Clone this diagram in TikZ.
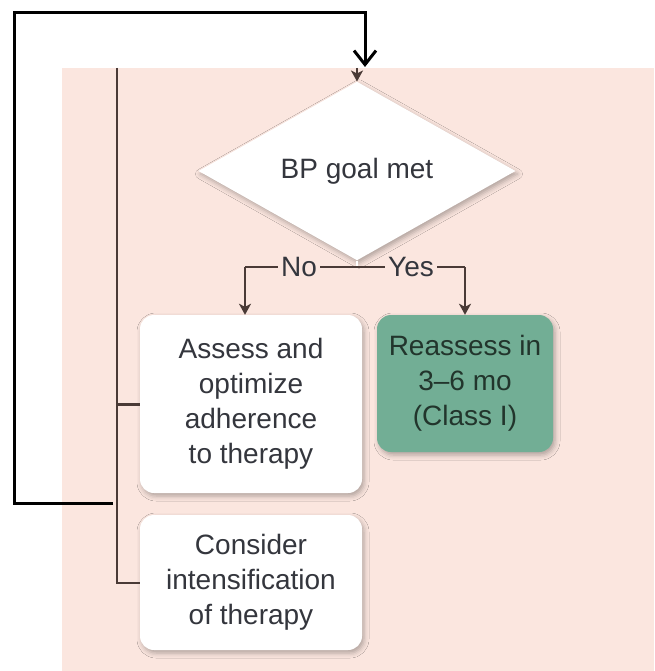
\documentclass[tikz,border=0pt]{standalone}
\usepackage{fontspec}
\setmainfont{Liberation Sans}
\usetikzlibrary{arrows.meta,shapes.geometric,shadows.blur}

\definecolor{panel}{HTML}{FBE6DF}
\definecolor{mint}{HTML}{72AE95}
\definecolor{ink}{HTML}{34363D}
\definecolor{mintink}{HTML}{22352C}
\definecolor{wire}{HTML}{4A3A36}

\tikzset{
  softshadow/.style={blur shadow={shadow xshift=2pt,shadow yshift=-3pt,
      shadow blur radius=5pt,shadow opacity=30}},
  card/.style={fill=white,rounded corners=14pt,align=center,text=ink,
      inner sep=0pt,softshadow,font=\fontsize{28pt}{35pt}\selectfont},
  mintcard/.style={card,fill=mint,text=mintink},
  decision/.style={shape=diamond,fill=white,inner sep=0pt,text=ink,
      softshadow,font=\fontsize{28pt}{35pt}\selectfont},
  branch/.style={fill=panel,inner xsep=3pt,inner ysep=0pt,text=ink,
      font=\fontsize{28pt}{35pt}\selectfont},
  wire/.style={draw=wire,line width=2pt},
  flowarrow/.style={wire,-{Stealth[length=11pt,width=12pt,inset=3pt]}},
  loopline/.style={draw=black,line width=3pt,line join=miter,
      -{Straight Barb[length=14pt,width=22pt]}}
}

\begin{document}
\begin{tikzpicture}[x=1pt,y=-1pt]
  \useasboundingbox (0,0) rectangle (654,671);
  \fill[white] (0,0) rectangle (654,671);
  \fill[panel] (62,68) rectangle (654,671);

  % points where the connectors turn
  \coordinate (loopBR) at (113,503);
  \coordinate (loopBL) at (14,503);
  \coordinate (loopTL) at (14,13);
  \coordinate (loopTR) at (365,13);
  \coordinate (loopEnd) at (365,67);
  \coordinate (feedTop) at (357,68);
  \coordinate (spineTop) at (117,68);
  \coordinate (split) at (357,267);
  \coordinate (noCorner) at (245,267);
  \coordinate (yesCorner) at (465,267);

  % boxes
  \node[decision,minimum width=317pt,minimum height=132pt] (goal) at (357,171) {BP goal met};
  \node[card,minimum width=222pt,minimum height=178pt] (assess) at (251,404)
      {Assess and\\optimize\\adherence\\to therapy};
  \node[mintcard,minimum width=176pt,minimum height=137pt] (reassess) at (465,383.5)
      {Reassess in\\3–6 mo\\(Class I)};
  \node[card,minimum width=222pt,minimum height=135pt] (consider) at (251,582.5)
      {Consider\\intensification\\of therapy};

  % connectors
  \draw[loopline] (loopBR) -- (loopBL) -- (loopTL) -- (loopTR) -- (loopEnd);
  \draw[flowarrow] (feedTop) -- (goal.north);
  \draw[draw=white,line width=2pt] (goal.south) -- (split);
  \draw[wire] (noCorner) -- (yesCorner);
  \node[branch] (no) at (299,267) {No};
  \node[branch] (yes) at (411,267) {Yes};
  \draw[flowarrow] (noCorner) -- (noCorner |- assess.north);
  \draw[flowarrow] (yesCorner) -- (reassess.north);
  \draw[wire] (spineTop) |- (consider.west);
  \draw[wire,line width=3pt] (spineTop |- assess.west) -- (assess.west);
\end{tikzpicture}
\end{document}
